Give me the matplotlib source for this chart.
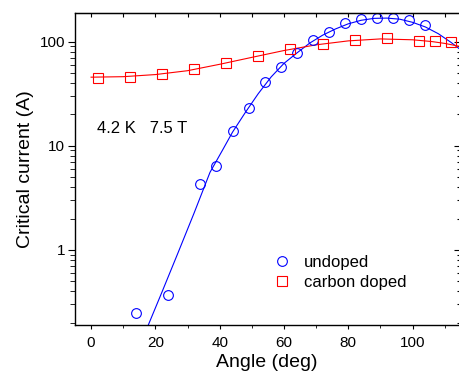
"""Corrente crítica em função do ângulo: amostra pura x dopada com carbono."""

import matplotlib

matplotlib.use("Agg")
import matplotlib.pyplot as plt
from matplotlib.ticker import FixedLocator, LogLocator, MultipleLocator, NullFormatter

# pontos medidos (ângulo em graus, corrente em A)
angulo_puro = [14, 24, 34, 39, 44, 49, 54, 59, 64, 69, 74, 79, 84, 89, 94, 99, 104]
ic_puro = [0.25, 0.37, 4.3, 6.4, 13.7, 23.2, 40.7, 57.4, 77, 103, 124, 150, 163,
           167, 167, 161, 143]

angulo_dopado = [2, 12, 22, 32, 42, 52, 62, 72, 82, 92, 102, 107, 112]
ic_dopado = [45, 46, 48.5, 54.2, 62.8, 72.8, 84.9, 94.9, 103.6, 107.6, 102, 102, 99.8]

# curvas ajustadas
angulo_ajuste_puro = [17.8, 22, 27, 32, 37, 41, 44, 48, 52, 56, 60, 64, 68, 72, 76,
                      80, 84, 88, 92, 96, 100, 104, 108, 112, 114.6]
ic_ajuste_puro = [0.19, 0.39, 0.93, 2.24, 5.56, 9.2, 13.5, 20.9, 31.6, 45.7, 61.7,
                  77.6, 96.6, 115, 132, 148, 160, 167, 168, 164, 153, 138, 119, 98, 85]

angulo_ajuste_dopado = [0, 10, 20, 30, 40, 50, 60, 70, 80, 90, 100, 106, 110, 114.6]
ic_ajuste_dopado = [45.5, 46, 48.2, 52.5, 60.5, 70.5, 82, 93, 101.5, 106, 104, 100,
                    96, 90]

plt.rcParams["font.family"] = ["Liberation Sans", "DejaVu Sans"]

AZUL = "#0000ff"
VERMELHO = "#ff0000"

fig = plt.figure(figsize=(4.6, 3.79), dpi=100)
ax = fig.add_axes([75 / 460, 54 / 379, 384.5 / 460, 312 / 379])

ax.plot(angulo_ajuste_puro, ic_ajuste_puro, color=AZUL, lw=0.8)
ax.plot(angulo_ajuste_dopado, ic_ajuste_dopado, color=VERMELHO, lw=0.8)
ax.plot(angulo_puro, ic_puro, "o", ms=7, mfc="none", mec=AZUL, mew=0.8, label="undoped")
ax.plot(angulo_dopado, ic_dopado, "s", ms=6.5, mfc="none", mec=VERMELHO, mew=0.8,
        label="carbon doped")

ax.set_yscale("log")
ax.set_xlim(-5, 114.6)
ax.set_ylim(0.19, 188)

ax.xaxis.set_major_locator(MultipleLocator(20))
ax.xaxis.set_minor_locator(MultipleLocator(10))
ax.yaxis.set_major_locator(FixedLocator([1, 10, 100]))
ax.yaxis.set_major_formatter(matplotlib.ticker.FixedFormatter(["1", "10", "100"]))
ax.yaxis.set_minor_locator(LogLocator(base=10, subs=range(2, 10)))
ax.yaxis.set_minor_formatter(NullFormatter())

ax.tick_params(axis="both", labelsize=11, width=0.8, color="black")
ax.tick_params(axis="x", which="major", direction="out", length=3, pad=5)
ax.tick_params(axis="x", which="minor", direction="out", length=2)
ax.tick_params(axis="y", which="major", direction="out", length=5, pad=2)
ax.tick_params(axis="y", which="minor", direction="out", length=3.5)

# eixos espelhados (topo e direita) com marcas para dentro
topo = ax.secondary_xaxis("top")
topo.xaxis.set_major_locator(MultipleLocator(10))
topo.tick_params(direction="in", length=3, width=0.8, labeltop=False)
direita = ax.secondary_yaxis("right")
direita.set_yscale("log")
direita.yaxis.set_major_locator(FixedLocator([1, 10, 100]))
direita.yaxis.set_minor_locator(LogLocator(base=10, subs=range(2, 10)))
direita.tick_params(which="major", direction="in", length=4, width=0.8, labelright=False)
direita.tick_params(which="minor", direction="in", length=2.5, width=0.8)

for lado in ax.spines.values():
    lado.set_linewidth(1.0)
    lado.set_color("black")

ax.set_xlabel("Angle (deg)", fontsize=14, labelpad=3)
ax.set_ylabel("Critical current (A)", fontsize=14, labelpad=4)

ax.text(0.057, 0.631, "4.2 K   7.5 T", transform=ax.transAxes, fontsize=12,
        va="center", ha="left")

ax.legend(loc="upper left", bbox_to_anchor=(0.516, 0.224), frameon=False, fontsize=12,
          handlelength=1.0, handletextpad=0.84, borderpad=0, labelspacing=0.27,
          borderaxespad=0)

fig.savefig("out.png", dpi=100)
plt.close(fig)
